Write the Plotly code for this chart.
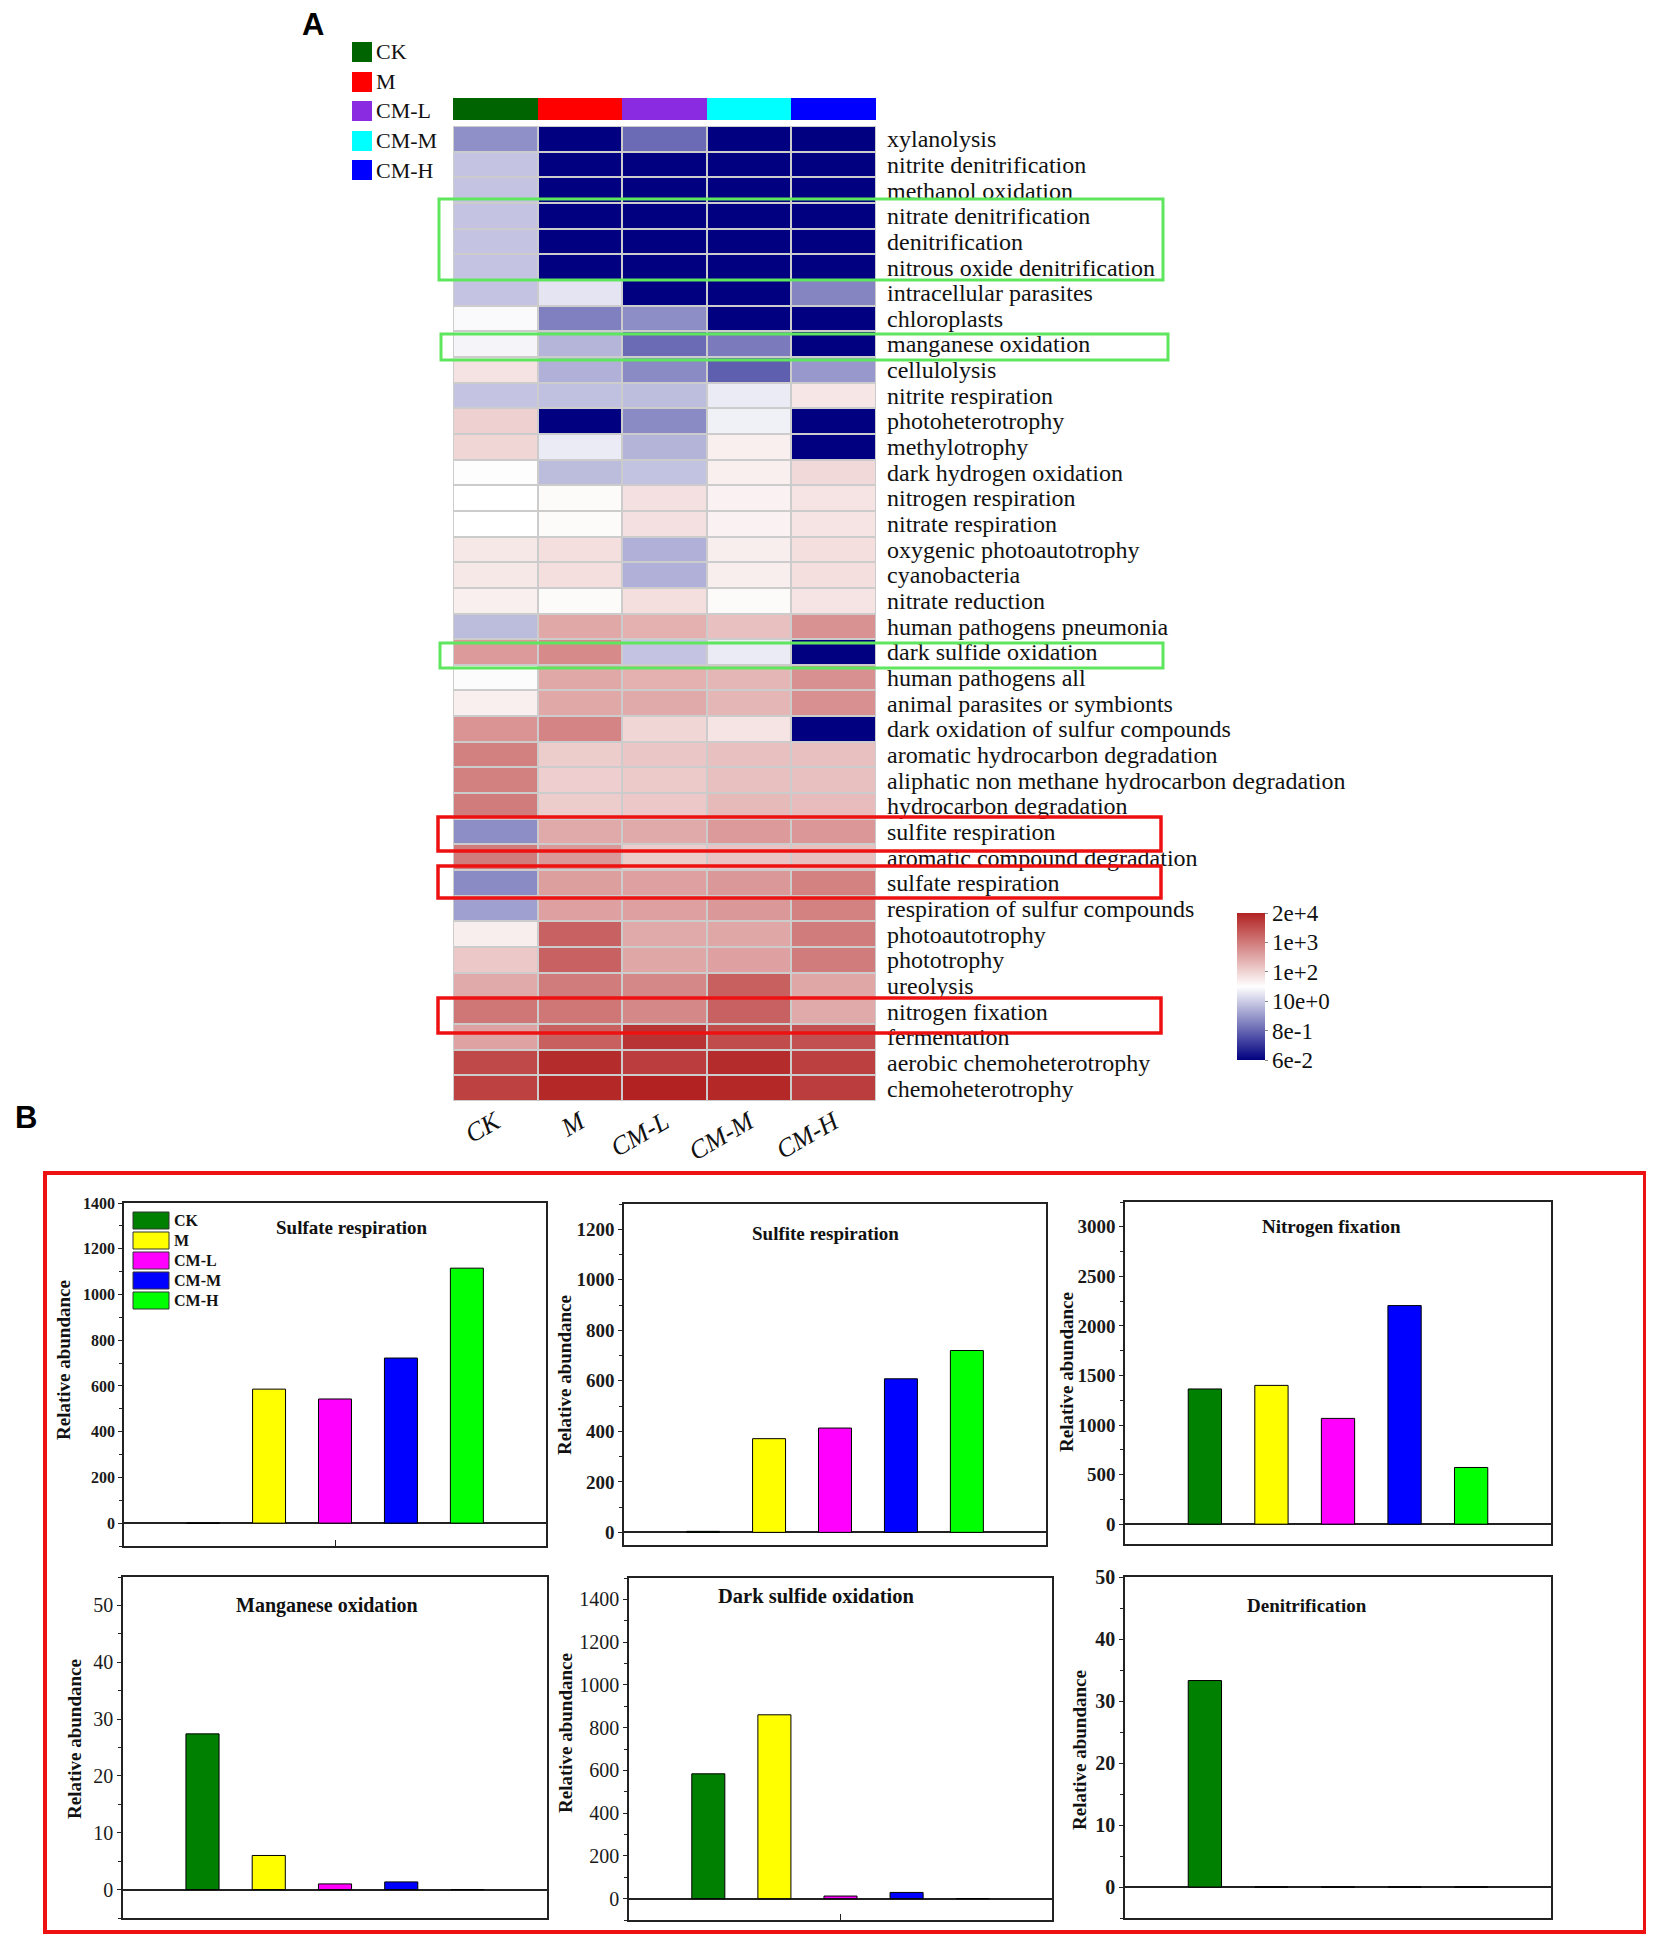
import plotly.graph_objects as go

# page is 1654x1942; the browser adds an 8px body margin, so the figure is 16px smaller
REF_W, REF_H = 1654, 1942
OFF = 8
FW, FH = REF_W - 2 * OFF, REF_H - 2 * OFF

# ---------------- Panel A data ----------------
samples = ["CK", "M", "CM-L", "CM-M", "CM-H"]
sample_colors = ["#006400", "#FF0000", "#8A2BE2", "#00FFFF", "#0000FF"]

functions = [
    "xylanolysis", "nitrite denitrification", "methanol oxidation",
    "nitrate denitrification", "denitrification", "nitrous oxide denitrification",
    "intracellular parasites", "chloroplasts", "manganese oxidation", "cellulolysis",
    "nitrite respiration", "photoheterotrophy", "methylotrophy",
    "dark hydrogen oxidation", "nitrogen respiration", "nitrate respiration",
    "oxygenic photoautotrophy", "cyanobacteria", "nitrate reduction",
    "human pathogens pneumonia", "dark sulfide oxidation", "human pathogens all",
    "animal parasites or symbionts", "dark oxidation of sulfur compounds",
    "aromatic hydrocarbon degradation", "aliphatic non methane hydrocarbon degradation",
    "hydrocarbon degradation", "sulfite respiration", "aromatic compound degradation",
    "sulfate respiration", "respiration of sulfur compounds", "photoautotrophy",
    "phototrophy", "ureolysis", "nitrogen fixation", "fermentation",
    "aerobic chemoheterotrophy", "chemoheterotrophy",
]

# colour level on the colour-bar scale (0 = 6e-2 ... 5 = 2e+4), read per cell
ck = [1.41, 1.92, 1.92, 1.92, 1.92, 1.92, 1.92, 2.45, 2.39, 2.83, 1.92, 3.03, 2.96,
      2.48, 2.50, 2.50, 2.76, 2.76, 2.68, 1.84, 3.64, 2.47, 2.68, 3.71, 3.94, 3.94,
      3.98, 1.39, 3.98, 1.35, 1.57, 2.69, 3.12, 3.46, 4.05, 3.55, 4.57, 4.65]
m = [0, 0, 0, 0, 0, 0, 2.24, 1.25, 1.77, 1.73, 1.88, 0, 2.30, 1.84, 2.56, 2.56,
     2.87, 2.87, 2.56, 3.48, 3.82, 3.48, 3.48, 3.89, 3.08, 3.05, 3.08, 3.46, 3.66,
     3.60, 3.57, 4.28, 4.28, 3.98, 4.05, 4.30, 4.89, 4.93]
cml = [1.05, 0, 0, 0, 0, 0, 0, 1.39, 1.05, 1.35, 1.85, 1.35, 1.76, 1.90, 2.85, 2.85,
       1.73, 1.73, 2.87, 3.39, 1.92, 3.39, 3.46, 2.96, 3.14, 3.10, 3.12, 3.46, 3.08,
       3.57, 3.57, 3.46, 3.50, 3.85, 3.85, 4.80, 4.70, 5.00]
cmm = [0, 0, 0, 0, 0, 0, 0, 0, 1.20, 0.93, 2.30, 2.35, 2.68, 2.68, 2.65, 2.65, 2.69,
       2.69, 2.56, 3.21, 2.30, 3.33, 3.33, 2.80, 3.21, 3.21, 3.28, 3.64, 3.17, 3.66,
       3.66, 3.50, 3.57, 4.30, 4.28, 4.52, 4.89, 4.93]
cmh = [0, 0, 0, 0, 0, 0, 1.30, 0, 0, 1.49, 2.78, 0, 0, 2.93, 2.80, 2.80, 2.87, 2.87,
       2.80, 3.73, 0, 3.76, 3.76, 0, 3.21, 3.21, 3.26, 3.68, 3.21, 3.92, 3.92, 3.98,
       3.98, 3.50, 3.46, 4.48, 4.66, 4.70]

cbar_levels = [0, 1, 2, 3, 4, 5]
cbar_ticktext = ["6e-2", "8e-1", "10e+0", "1e+2", "1e+3", "2e+4"]

# ---------------- Panel B data ----------------
bar_groups = ["CK", "M", "CM-L", "CM-M", "CM-H"]
bar_colors = ["#008000", "#FFFF00", "#FF00FF", "#0000FF", "#00FF00"]
sulfate_resp = [0, 586, 543, 722, 1115]
sulfite_resp = [4, 371, 413, 608, 720]
nitrogen_fix = [1364, 1400, 1067, 2205, 572]
manganese_ox = [27.4, 6.0, 1.0, 1.35, 0]
dark_sulfide_ox = [584, 860, 12, 29, 0]
denitrification = [33.3, 0, 0, 0, 0]

SERIF = "Liberation Serif"


def px(x):
    return (x - OFF) / FW


def py(y):
    return 1 - (y - OFF) / FH


fig = go.Figure()
z = [[ck[i], m[i], cml[i], cmm[i], cmh[i]] for i in range(len(functions))]

fig.add_trace(go.Heatmap(
    z=z, x=samples, y=functions, zmin=0, zmax=5,
    colorscale=[[0, "#000080"], [0.5, "#FFFFFF"], [1, "#B22222"]],
    xgap=2, ygap=2, xaxis="x", yaxis="y",
    colorbar=dict(
        x=px(1237), xanchor="left", xpad=0, y=py((913 + 1060) / 2), yanchor="middle",
        len=147, lenmode="pixels", thickness=28, thicknessmode="pixels", ypad=0,
        outlinewidth=0, tickvals=cbar_levels, ticktext=cbar_ticktext,
        ticks="outside", ticklen=3, tickcolor="#888888",
        tickfont=dict(family=SERIF, size=23, color="#111111"),
    ),
))

fig.add_trace(go.Heatmap(
    z=[list(range(len(samples)))], x=samples, y=["group"], zmin=0, zmax=4,
    colorscale=[[i / 4, c] for i, c in enumerate(sample_colors)],
    showscale=False, xaxis="x2", yaxis="y2",
))

panels = [
    ("Sulfate respiration", sulfate_resp, [124, 546, 1203, 1546], [-100, 1400], 200, 100),
    ("Sulfite respiration", sulfite_resp, [624, 1046, 1204, 1545], [-50, 1300], 200, 100),
    ("Nitrogen fixation", nitrogen_fix, [1125, 1551, 1202, 1544], [-200, 3250], 500, 250),
    ("Manganese oxidation", manganese_ox, [123, 547, 1577, 1918], [-5, 55], 10, 5),
    ("Dark sulfide oxidation", dark_sulfide_ox, [629, 1052, 1578, 1920], [-100, 1500], 200, 100),
    ("Denitrification", denitrification, [1125, 1551, 1577, 1918], [-5, 50], 10, 5),
]
title_pos = [(352, 1227, 19), (825, 1233, 19), (1331, 1226, 19),
             (327, 1605, 20), (816, 1596, 20.5), (1307, 1605, 19)]
ytitle_pos = [(63, 1360), (564, 1375), (1066, 1372), (74, 1739), (565, 1733), (1079, 1750)]
tick_fonts = [(16, "bold"), (19, "bold"), (19, "bold"), (20, "normal"), (20, "normal"), (20, "bold")]
center_tick = [True, False, False, False, True, False]

layout = dict(
    width=FW, height=FH, margin=dict(l=0, r=0, t=0, b=0, autoexpand=False),
    paper_bgcolor="white", plot_bgcolor="#CCCCCC", showlegend=False,
    xaxis=dict(domain=[px(453), px(876)], anchor="y", tickangle=-30, ticks="",
               showgrid=False, zeroline=False, showline=False, automargin=False,
               tickfont=dict(family=SERIF, size=26, style="italic", color="#111111")),
    yaxis=dict(domain=[py(1101), py(126)], anchor="x", side="right", autorange="reversed",
               tickmode="array", tickvals=functions, ticktext=functions, automargin=False,
               ticks="", showgrid=False, zeroline=False, ticklabelstandoff=10,
               tickfont=dict(family=SERIF, size=24, color="#111111")),
    xaxis2=dict(domain=[px(453), px(876)], anchor="y2", showticklabels=False, ticks="",
                showgrid=False, zeroline=False, automargin=False),
    yaxis2=dict(domain=[py(120), py(98)], anchor="x2", showticklabels=False, ticks="",
                showgrid=False, zeroline=False, automargin=False),
)

shapes = []
annotations = []

for k, (title, vals, box, yr, dt, mdt) in enumerate(panels):
    n = k + 3
    xa, ya = f"x{n}", f"y{n}"
    fig.add_trace(go.Bar(
        x=bar_groups, y=vals, marker=dict(color=bar_colors, line=dict(color="black", width=1)),
        width=0.5, xaxis=xa, yaxis=ya,
    ))
    fsize, fweight = tick_fonts[k]
    layout[f"xaxis{n}"] = dict(
        domain=[px(box[0]), px(box[1])], anchor=ya, range=[-1.2, 5.2],
        showline=True, mirror=True, linecolor="#222222", linewidth=1.5,
        showgrid=False, zeroline=False, showticklabels=False, automargin=False,
        tickvals=["CM-L"] if center_tick[k] else [], ticks="inside" if center_tick[k] else "",
        ticklen=6, tickcolor="#222222",
    )
    layout[f"yaxis{n}"] = dict(
        domain=[py(box[3]), py(box[2])], anchor=xa, range=yr, automargin=False,
        showline=True, mirror=True, linecolor="#222222", linewidth=1.5,
        showgrid=False, zeroline=True, zerolinecolor="#222222", zerolinewidth=1.5,
        tick0=0, dtick=dt, ticks="outside", ticklen=4, tickcolor="#222222",
        minor=dict(dtick=mdt, tick0=0, ticks="outside", ticklen=3, tickcolor="#222222"),
        tickfont=dict(family=SERIF, size=fsize, weight=fweight, color="#1a1a1a"),
    )
    shapes.append(dict(type="rect", xref=f"{xa} domain", yref=f"{ya} domain",
                       x0=0, x1=1, y0=0, y1=1, fillcolor="white", line=dict(width=0),
                       layer="below"))
    tx, ty, ts = title_pos[k]
    annotations.append(dict(text=title, x=px(tx), y=py(ty), xref="paper", yref="paper",
                            showarrow=False, xanchor="center", yanchor="middle",
                            font=dict(family=SERIF, size=ts, weight="bold", color="#111111")))
    yx, yy = ytitle_pos[k]
    annotations.append(dict(text="Relative abundance", x=px(yx), y=py(yy), xref="paper",
                            yref="paper", showarrow=False, textangle=-90,
                            xanchor="center", yanchor="middle",
                            font=dict(family=SERIF, size=19, weight="bold", color="#111111")))

# legend inside "Sulfate respiration" panel
for i, (g, c) in enumerate(zip(bar_groups, bar_colors)):
    y0 = 1212 + 20 * i
    shapes.append(dict(type="rect", xref="paper", yref="paper",
                       x0=px(133), x1=px(169), y0=py(y0 + 17), y1=py(y0),
                       fillcolor=c, line=dict(color="#333333", width=1)))
    annotations.append(dict(text=g, x=px(172), y=py(y0 + 8.5), xref="paper", yref="paper",
                            showarrow=False, xanchor="left", yanchor="middle",
                            font=dict(family=SERIF, size=16, weight="bold", color="#111111")))

# legend of panel A
legend_y = [52, 82, 111, 141, 170]
for g, c, yc in zip(samples, sample_colors, legend_y):
    shapes.append(dict(type="rect", xref="paper", yref="paper",
                       x0=px(352), x1=px(372), y0=py(yc + 10), y1=py(yc - 10),
                       fillcolor=c, line=dict(width=0)))
    annotations.append(dict(text=g, x=px(374), y=py(yc), xref="paper", yref="paper",
                            showarrow=False, xanchor="left", yanchor="middle",
                            font=dict(family=SERIF, size=22, color="#111111")))

# highlight boxes
green = "#5EE65E"
red = "#EE1111"
for (x0, x1, y0, y1, col, lw) in [
    (439, 1163, 199, 280, green, 3), (441, 1168, 334, 360, green, 3),
    (440, 1163, 643, 668, green, 3),
    (438, 1161, 817, 851, red, 3.5), (438, 1161, 866, 898, red, 3.5),
    (438, 1161, 998, 1033, red, 3.5),
    (45, 1645, 1173, 1932, red, 4),
]:
    shapes.append(dict(type="rect", xref="paper", yref="paper",
                       x0=px(x0), x1=px(x1), y0=py(y1), y1=py(y0),
                       line=dict(color=col, width=lw), fillcolor="rgba(0,0,0,0)"))

annotations.append(dict(text="A", x=px(313), y=py(24), xref="paper", yref="paper",
                        showarrow=False, xanchor="center", yanchor="middle",
                        font=dict(family="Liberation Sans", size=31, weight="bold",
                                  color="black")))
annotations.append(dict(text="B", x=px(26), y=py(1117), xref="paper", yref="paper",
                        showarrow=False, xanchor="center", yanchor="middle",
                        font=dict(family="Liberation Sans", size=31, weight="bold",
                                  color="black")))

layout["shapes"] = shapes
layout["annotations"] = annotations
fig.update_layout(**layout)
fig.write_html("out.html")
